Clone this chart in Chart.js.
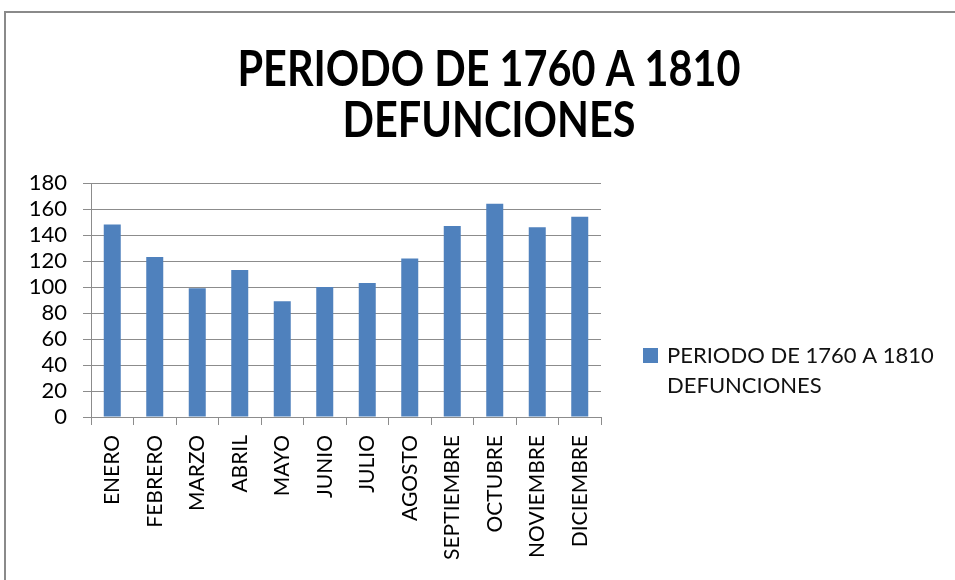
<!DOCTYPE html>
<html>
<head>
<meta charset="utf-8">
<script src="https://cdn.jsdelivr.net/npm/chart.js@4.4.1/dist/chart.umd.min.js"></script>
<style>
  html, body { margin: 0; padding: 0; background: #ffffff; }
  #wrap { position: relative; width: 955px; height: 580px; overflow: hidden; }
  canvas { display: block; }
</style>
</head>
<body>
<div id="wrap"><canvas id="c" width="955" height="580"></canvas></div>
<script>
// ---- data ----
const categories = ['ENERO', 'FEBRERO', 'MARZO', 'ABRIL', 'MAYO', 'JUNIO', 'JULIO', 'AGOSTO', 'SEPTIEMBRE', 'OCTUBRE', 'NOVIEMBRE', 'DICIEMBRE'];
const defunciones = [148, 123, 99, 113, 89, 100, 103, 122, 147, 164, 146, 154];
const seriesLabel = ['PERIODO DE 1760 A 1810', 'DEFUNCIONES'];
const titleLines = ['PERIODO DE 1760 A 1810', 'DEFUNCIONES'];
const yMin = 0, yMax = 180, yStep = 20;

const BAR = '#4F81BD';
const GRID = '#8c8c8c';
const TXT = '#000000';
const FONT = "Lato, 'Liberation Sans', Arial, sans-serif";

const framePlugin = {
  id: 'frame',
  beforeDraw(chart) {
    const ctx = chart.ctx;
    ctx.save();
    ctx.fillStyle = '#ffffff';
    ctx.fillRect(0, 0, chart.width, chart.height);
    ctx.strokeStyle = '#8a8a8a';
    ctx.lineWidth = 2;
    ctx.strokeRect(5, 12, chart.width + 20, chart.height + 20);
    ctx.restore();
  }
};

// Title drawn as real text, condensed to the original's width
const titlePlugin = {
  id: 'condensedTitle',
  afterDraw(chart) {
    const ctx = chart.ctx;
    const cx = 489;
    ctx.save();
    ctx.fillStyle = TXT;
    ctx.font = "bold 50px " + FONT;
    ctx.textAlign = 'center';
    ctx.textBaseline = 'alphabetic';
    const sx = Math.min(1, 503 / ctx.measureText(titleLines[0]).width);
    titleLines.forEach((t, i) => {
      ctx.save();
      ctx.translate(cx, 86 + i * 51);
      ctx.scale(sx, 1);
      ctx.fillText(t, 0, 0);
      ctx.restore();
    });
    ctx.restore();
  }
};

const legendPlugin = {
  id: 'sideLegend',
  afterDraw(chart) {
    const ctx = chart.ctx;
    const area = chart.chartArea;
    const ds = chart.data.datasets[0];
    const x0 = area.right + 42;
    const y0 = area.top + 165;
    ctx.save();
    ctx.fillStyle = ds.backgroundColor;
    ctx.fillRect(x0, y0, 15, 15);
    ctx.fillStyle = '#111111';
    ctx.font = '22px ' + FONT;
    ctx.textBaseline = 'middle';
    ctx.textAlign = 'left';
    const lines = Array.isArray(ds.label) ? ds.label : [ds.label];
    lines.forEach((t, i) => ctx.fillText(t, x0 + 24, y0 + 8 + i * 30));
    ctx.restore();
  }
};

new Chart(document.getElementById('c'), {
  type: 'bar',
  data: {
    labels: categories,
    datasets: [{
      label: seriesLabel,
      data: defunciones,
      backgroundColor: BAR,
      borderWidth: 0,
      categoryPercentage: 1.0,
      barPercentage: 0.4
    }]
  },
  options: {
    responsive: false,
    animation: false,
    layout: { padding: { left: 10, right: 0, top: 183, bottom: 0 } },
    plugins: {
      legend: { display: false },
      tooltip: { enabled: false },
      title: { display: false }
    },
    scales: {
      x: {
        grid: { display: true, drawOnChartArea: false, drawTicks: true, tickLength: 8, color: GRID, offset: true },
        border: { display: true, color: GRID, width: 1 },
        ticks: { color: TXT, font: { family: FONT, size: 21 }, minRotation: 90, maxRotation: 90, autoSkip: false, padding: 10 },
        afterFit(s) { s.height = 163; }
      },
      y: {
        min: yMin, max: yMax,
        grid: { color: GRID, drawTicks: true, tickLength: 8 },
        border: { display: true, color: GRID, width: 1 },
        ticks: { stepSize: yStep, autoSkip: false, color: TXT, font: { family: FONT, size: 22 }, padding: 16 },
        afterFit(s) { s.width = 81; }
      },
      yPad: {
        position: 'right',
        display: true,
        grid: { display: false },
        border: { display: false },
        ticks: { display: false },
        afterFit(s) { s.width = 354; }
      }
    }
  },
  plugins: [framePlugin, titlePlugin, legendPlugin]
});
</script>
</body>
</html>
